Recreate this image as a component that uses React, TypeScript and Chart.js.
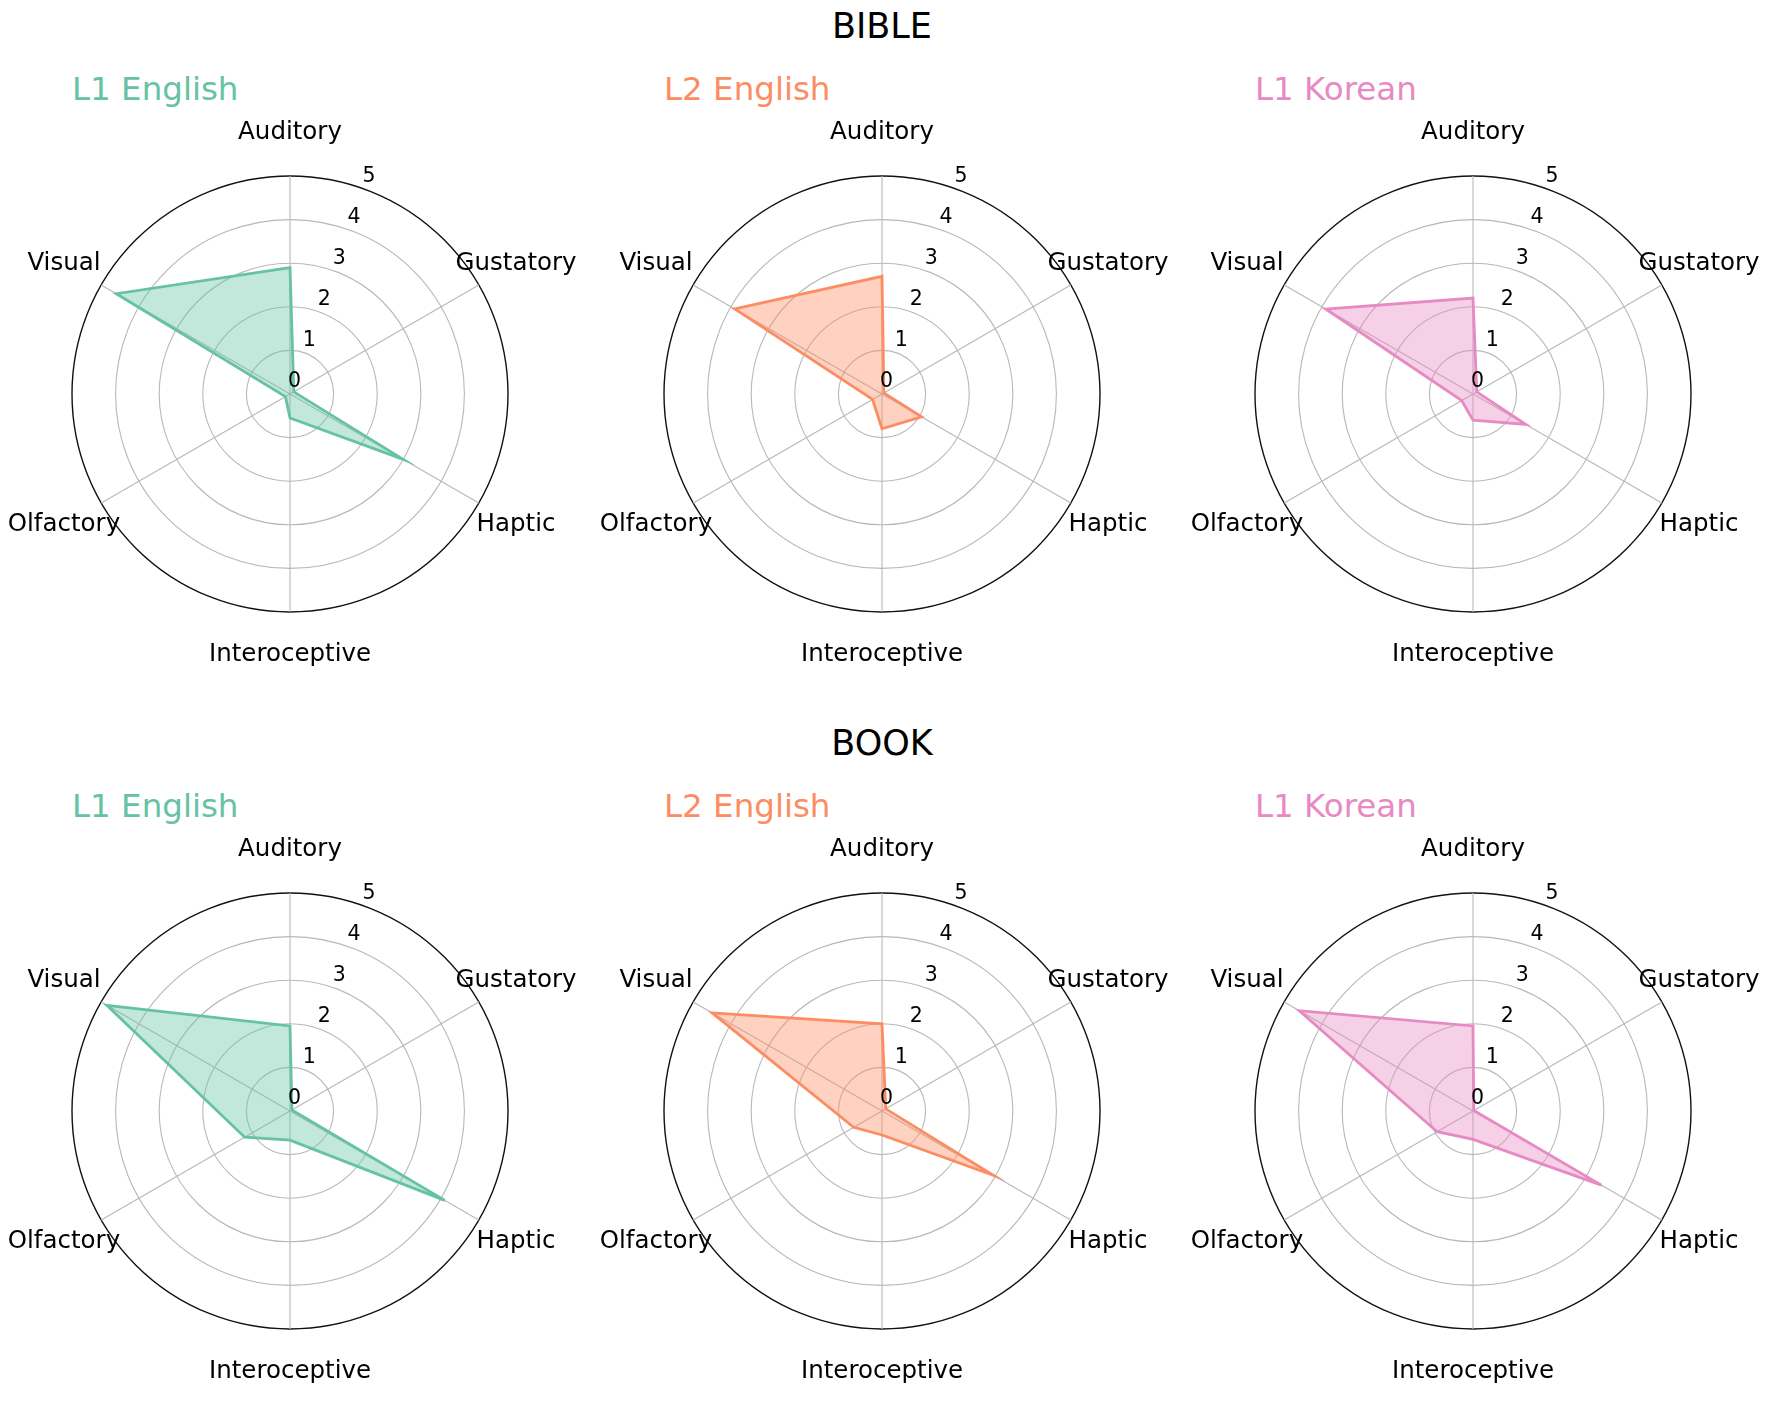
import React, { useEffect, useRef } from "react";
import { Chart, registerables } from "chart.js";

Chart.register(...registerables);
Chart.defaults.font.family = "'DejaVu Sans', sans-serif";

const categories = ["Auditory", "Gustatory", "Haptic", "Interoceptive", "Olfactory", "Visual"];
const radialTicks = [0, 1, 2, 3, 4, 5];
const groupTitles = ["BIBLE", "BOOK"];
const seriesNames = ["L1 English", "L2 English", "L1 Korean"];
const seriesColors = ["#66c2a5", "#fc8d62", "#e78ac3"];

// values in category order
const bibleL1English = [2.9, 0.1, 3.0, 0.55, 0.12, 4.6];
const bibleL2English = [2.7, 0.05, 1.05, 0.8, 0.25, 3.9];
const bibleL1Korean = [2.2, 0.1, 1.4, 0.6, 0.3, 3.9];
const bookL1English = [1.95, 0.05, 4.1, 0.67, 1.2, 4.85];
const bookL2English = [2.0, 0.1, 2.95, 0.55, 0.75, 4.5];
const bookL1Korean = [1.95, 0.02, 3.4, 0.65, 0.95, 4.6];

const groupValues = [
  [bibleL1English, bibleL2English, bibleL1Korean],
  [bookL1English, bookL2English, bookL1Korean],
];

const CENTER_X = [290, 882, 1473];
const CENTER_Y = [394, 1111];
const RADIUS = 218;
const CANVAS_W = 580;
const CANVAS_H = 580;
const PAD_L = 72;
const PAD_T = 82;

function hexToRgba(hex: string, a: number) {
  const n = parseInt(hex.slice(1), 16);
  return `rgba(${(n >> 16) & 255}, ${(n >> 8) & 255}, ${n & 255}, ${a})`;
}

const labelPlugin = {
  id: "mplLabels",
  afterDraw(chart: any) {
    const scale = chart.scales.r;
    const ctx = chart.ctx as CanvasRenderingContext2D;
    ctx.save();
    ctx.fillStyle = "#000";
    ctx.textAlign = "center";
    ctx.textBaseline = "middle";
    ctx.font = "24.5px 'DejaVu Sans'";
    categories.forEach((c, i) => {
      const p = scale.getPointPosition(i, scale.drawingArea + 43);
      ctx.fillText(c, p.x, p.y);
    });
    ctx.font = "20.5px 'DejaVu Sans'";
    const a = (20 * Math.PI) / 180;
    radialTicks.forEach((v) => {
      const d = scale.getDistanceFromCenterForValue(v) + 13;
      ctx.fillText(String(v), scale.xCenter + d * Math.sin(a), scale.yCenter - d * Math.cos(a));
    });
    ctx.restore();
  },
};

function RadarPanel({ values, color, left, top }: { values: number[]; color: string; left: number; top: number }) {
  const ref = useRef<HTMLCanvasElement>(null);
  useEffect(() => {
    const chart = new Chart(ref.current as HTMLCanvasElement, {
      type: "radar",
      data: {
        labels: categories,
        datasets: [
          {
            data: values,
            borderColor: color,
            backgroundColor: hexToRgba(color, 0.4),
            borderWidth: 2.8,
            pointRadius: 0,
            pointHoverRadius: 0,
            fill: true,
            tension: 0,
          },
        ],
      },
      options: {
        responsive: false,
        animation: false,
        layout: {
          padding: {
            left: PAD_L,
            right: CANVAS_W - PAD_L - 2 * RADIUS,
            top: PAD_T,
            bottom: CANVAS_H - PAD_T - 2 * RADIUS,
          },
        },
        plugins: { legend: { display: false }, tooltip: { enabled: false } },
        scales: {
          r: {
            min: 0,
            max: 5,
            ticks: { display: false, stepSize: 1 },
            pointLabels: { display: false },
            grid: {
              circular: true,
              color: (ctx: any) => (ctx.tick && ctx.tick.value === 5 ? "#111111" : "#b8b8b8"),
              lineWidth: (ctx: any) => (ctx.tick && ctx.tick.value === 5 ? 1.4 : 1.1),
            },
            angleLines: { color: "#b8b8b8", lineWidth: 1.1 },
          },
        },
      } as any,
      plugins: [labelPlugin],
    });
    return () => chart.destroy();
  }, [values, color]);
  return (
    <canvas
      ref={ref}
      width={CANVAS_W}
      height={CANVAS_H}
      style={{ position: "absolute", left, top, width: CANVAS_W, height: CANVAS_H }}
    />
  );
}

export default function App() {
  const font = "'DejaVu Sans', sans-serif";
  return (
    <div style={{ position: "absolute", left: 0, top: 0, width: 1772, height: 1401, background: "#fff", overflow: "hidden" }}>
      {groupTitles.map((g, r) => (
        <div
          key={g}
          style={{
            position: "absolute",
            left: CENTER_X[1] - 300,
            width: 600,
            top: CENTER_Y[r] - 368 - 17.5,
            textAlign: "center",
            fontFamily: font,
            fontSize: 35,
            lineHeight: "35px",
            color: "#000",
          }}
        >
          {g}
        </div>
      ))}
      {groupTitles.map((g, r) =>
        seriesNames.map((s, c) => (
          <div
            key={g + s}
            style={{
              position: "absolute",
              left: CENTER_X[c] - RADIUS,
              top: CENTER_Y[r] - 294 - 27.5,
              fontFamily: font,
              fontSize: 32.5,
              lineHeight: "32.5px",
              color: seriesColors[c],
              whiteSpace: "nowrap",
            }}
          >
            {s}
          </div>
        ))
      )}
      {groupTitles.map((g, r) =>
        seriesNames.map((s, c) => (
          <RadarPanel
            key={"chart" + g + s}
            values={groupValues[r][c]}
            color={seriesColors[c]}
            left={CENTER_X[c] - (PAD_L + RADIUS)}
            top={CENTER_Y[r] - (PAD_T + RADIUS)}
          />
        ))
      )}
    </div>
  );
}
